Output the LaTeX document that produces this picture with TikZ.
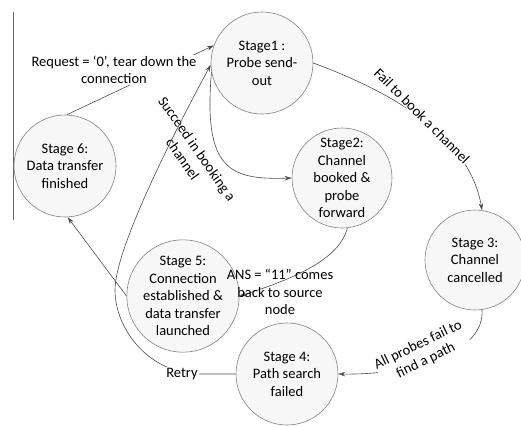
\documentclass[tikz,border=0pt]{standalone}
\usepackage{fontspec}
\setmainfont{Carlito}
\usetikzlibrary{arrows.meta}
\begin{document}
\begin{tikzpicture}[x=1pt,y=-1pt,
  stage/.style={circle,draw=black!50,fill=black!3,line width=0.6pt,
    minimum size=102pt,inner sep=0pt,align=center,
    font=\fontsize{14.5}{17.5}\selectfont},
  flow/.style={draw=black!70,line width=0.6pt,-{Stealth[length=7pt,width=4.5pt]}},
  lbl/.style={font=\fontsize{14.5}{17.5}\selectfont,align=center,inner sep=1pt}]
\useasboundingbox (0,0) rectangle (521,426);

% left rule
\draw[black!60,line width=0.8pt] (13,12) -- (13,220);

% states
\node[stage] (s1) at (262,63)  {Stage1 :\\Probe send-\\out};
\node[stage,minimum size=100pt] (s2) at (342,178) {Stage2:\\Channel\\booked \&\\probe\\forward};
\node[stage,minimum size=100pt] (s3) at (475,260) {Stage 3:\\Channel\\cancelled};
\node[stage] (s4) at (287,374) {Stage 4:\\Path search\\failed};
\node[stage,minimum size=108pt] (s5) at (183,296) {Stage 5:\\Connection\\established \&\\data transfer\\launched};
\node[stage] (s6) at (65,166)  {Stage 6:\\Data transfer\\finished};

% Stage 6 -> Stage 1
\draw[flow] (s6.88) -- (s1.160);
\node[lbl,fill=white] (lreq) at (114,70) {Request = `0', tear down the\\connection};

% Stage 1 -> Stage 2
\draw[flow] (s1.190) .. controls (203,170) and (230,180) .. (s2.west);
\node[lbl,rotate=-55] (lsucc) at (190,154) {Succeed in booking a\\channel};

% Stage 1 -> Stage 3
\draw[flow] (s1.east) .. controls (400,95) and (470,140) .. (s3.82);
\node[lbl,fill=white,inner sep=0.5pt,rotate=-45] (lfail) at (422,116) {Fail to book a channel};

% Stage 3 -> Stage 4
\draw[flow] (s3.-82) .. controls (485,350) and (420,375) .. (s4.east);
\node[lbl,fill=white,inner sep=0.5pt,rotate=26] (lall) at (422,353) {All probes fail to\\find a path};

% Stage 2 -> Stage 5
\draw[flow] (s2.-84) .. controls (340,260) and (290,280) .. (s5.east);
\node[lbl] (lans) at (280,292) {ANS = ``11'' comes\\back to source\\node};

% Stage 4 -> Stage 1 (retry)
\coordinate (rt) at (200,374);
\coordinate (lo) at (115,290);
\draw[flow] (s4.west) -- (rt) .. controls (150,374) and (115,330) .. (lo)
  .. controls (115,250) and (170,140) .. (s1.182);
\node[lbl,fill=white] (lretry) at (182,374) {Retry};

% Stage 5 -> Stage 6
\draw[flow] (s5.west) -- (s6.273);
\end{tikzpicture}
\end{document}
